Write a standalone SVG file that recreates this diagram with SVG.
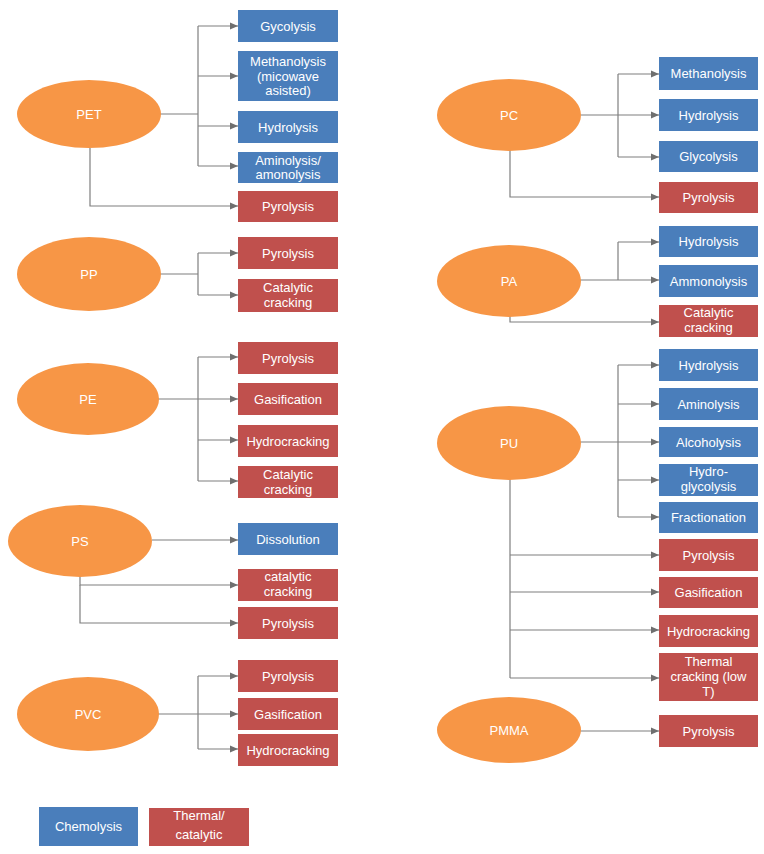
<svg xmlns="http://www.w3.org/2000/svg" width="764" height="854" viewBox="0 0 764 854">
<defs>
<marker id="ah" markerUnits="userSpaceOnUse" markerWidth="8" markerHeight="8" refX="8" refY="4" orient="auto"><path d="M0,0.5 L8,4 L0,7.5 z" fill="#6f6f6f"/></marker>
<style>
.b{fill:#4a7ebb}
.r{fill:#c0504d}
.e{fill:#f79646}
text{font-family:"Liberation Sans",Arial,sans-serif;font-size:13px;fill:#fff;text-anchor:middle}
.c path{fill:none;stroke:#7f7f7f;stroke-width:1.2}
.c .a{marker-end:url(#ah)}
</style>
</defs>
<rect width="764" height="854" fill="#fff"/>

<g id="connectors" class="c">
<!-- PET -->
<path d="M160,114 H198"/>
<path d="M198,26 V166"/>
<path class="a" d="M198,26 H238"/>
<path class="a" d="M198,76 H238"/>
<path class="a" d="M198,126 H238"/>
<path class="a" d="M198,166 H238"/>
<path class="a" d="M90,148 V206 H238"/>
<!-- PP -->
<path d="M160,274 H198"/>
<path d="M198,253 V295"/>
<path class="a" d="M198,253 H238"/>
<path class="a" d="M198,295 H238"/>
<!-- PE -->
<path d="M158,399 H198"/>
<path d="M198,357 V481"/>
<path class="a" d="M198,357 H238"/>
<path class="a" d="M198,399 H238"/>
<path class="a" d="M198,440 H238"/>
<path class="a" d="M198,481 H238"/>
<!-- PS -->
<path class="a" d="M152,540 H238"/>
<path class="a" d="M80,576 V585 H238"/>
<path class="a" d="M80,585 V623 H238"/>
<!-- PVC -->
<path d="M158,714 H198"/>
<path d="M198,676 V749"/>
<path class="a" d="M198,676 H238"/>
<path class="a" d="M198,714 H238"/>
<path class="a" d="M198,749 H238"/>
<!-- PC -->
<path d="M581,115 H618"/>
<path d="M618,74 V157"/>
<path class="a" d="M618,74 H659"/>
<path class="a" d="M618,115 H659"/>
<path class="a" d="M618,157 H659"/>
<path class="a" d="M510,150 V197 H659"/>
<!-- PA -->
<path d="M580,280 H618"/>
<path d="M618,242 V280"/>
<path class="a" d="M618,242 H659"/>
<path class="a" d="M618,280 H659"/>
<path class="a" d="M510,316 V322 H659"/>
<!-- PU -->
<path d="M580,442 H618"/>
<path d="M618,365 V517"/>
<path class="a" d="M618,365 H659"/>
<path class="a" d="M618,404 H659"/>
<path class="a" d="M618,442 H659"/>
<path class="a" d="M618,480 H659"/>
<path class="a" d="M618,517 H659"/>
<path d="M510,479 V678"/>
<path class="a" d="M510,555 H659"/>
<path class="a" d="M510,592 H659"/>
<path class="a" d="M510,630 H659"/>
<path class="a" d="M510,678 H659"/>
<!-- PMMA -->
<path class="a" d="M580,731 H659"/>
</g>

<g id="PET"><ellipse class="e" cx="89" cy="114" rx="72" ry="34"/><text x="89" y="118.5">PET</text></g>
<g id="PP"><ellipse class="e" cx="89" cy="274" rx="72" ry="37"/><text x="89" y="278.5">PP</text></g>
<g id="PE"><ellipse class="e" cx="88" cy="399" rx="71" ry="36"/><text x="88" y="403.5">PE</text></g>
<g id="PS"><ellipse class="e" cx="80" cy="541" rx="72" ry="36"/><text x="80" y="545.5">PS</text></g>
<g id="PVC"><ellipse class="e" cx="88" cy="714" rx="71" ry="37"/><text x="88" y="718.5">PVC</text></g>
<g id="PC"><ellipse class="e" cx="509" cy="115" rx="72" ry="36"/><text x="509" y="119.5">PC</text></g>
<g id="PA"><ellipse class="e" cx="509" cy="281" rx="72" ry="36"/><text x="509" y="285.5">PA</text></g>
<g id="PU"><ellipse class="e" cx="509" cy="443" rx="72" ry="37"/><text x="509" y="447.5">PU</text></g>
<g id="PMMA"><ellipse class="e" cx="509" cy="730" rx="72" ry="33"/><text x="509" y="734.5">PMMA</text></g>

<!-- left column boxes -->
<g id="pet-gycolysis"><rect class="b" x="238" y="10" width="100" height="32"/><text x="288" y="30.5">Gycolysis</text></g>
<g id="pet-methanolysis"><rect class="b" x="238" y="51" width="100" height="50"/><text x="288" y="66">Methanolysis</text><text x="288" y="80.5">(micowave</text><text x="288" y="95">asisted)</text></g>
<g id="pet-hydrolysis"><rect class="b" x="238" y="111" width="100" height="32"/><text x="288" y="131.5">Hydrolysis</text></g>
<g id="pet-aminolysis"><rect class="b" x="238" y="152" width="100" height="31"/><text x="288" y="165">Aminolysis/</text><text x="288" y="179">amonolysis</text></g>
<g id="pet-pyrolysis"><rect class="r" x="238" y="191" width="100" height="31"/><text x="288" y="211">Pyrolysis</text></g>

<g id="pp-pyrolysis"><rect class="r" x="238" y="237" width="100" height="32"/><text x="288" y="257.5">Pyrolysis</text></g>
<g id="pp-catalytic"><rect class="r" x="238" y="279" width="100" height="33"/><text x="288" y="292">Catalytic</text><text x="288" y="307">cracking</text></g>

<g id="pe-pyrolysis"><rect class="r" x="238" y="342" width="100" height="32"/><text x="288" y="362.5">Pyrolysis</text></g>
<g id="pe-gasification"><rect class="r" x="238" y="383" width="100" height="32"/><text x="288" y="403.5">Gasification</text></g>
<g id="pe-hydrocracking"><rect class="r" x="238" y="425" width="100" height="32"/><text x="288" y="445.5">Hydrocracking</text></g>
<g id="pe-catalytic"><rect class="r" x="238" y="466" width="100" height="32"/><text x="288" y="479">Catalytic</text><text x="288" y="494">cracking</text></g>

<g id="ps-dissolution"><rect class="b" x="238" y="523" width="100" height="32"/><text x="288" y="543.5">Dissolution</text></g>
<g id="ps-catalytic"><rect class="r" x="238" y="569" width="100" height="32"/><text x="288" y="581">catalytic</text><text x="288" y="596">cracking</text></g>
<g id="ps-pyrolysis"><rect class="r" x="238" y="607" width="100" height="32"/><text x="288" y="627.5">Pyrolysis</text></g>

<g id="pvc-pyrolysis"><rect class="r" x="238" y="660" width="100" height="32"/><text x="288" y="680.5">Pyrolysis</text></g>
<g id="pvc-gasification"><rect class="r" x="238" y="698" width="100" height="32"/><text x="288" y="718.5">Gasification</text></g>
<g id="pvc-hydrocracking"><rect class="r" x="238" y="734" width="100" height="32"/><text x="288" y="754.5">Hydrocracking</text></g>

<!-- right column boxes -->
<g id="pc-methanolysis"><rect class="b" x="659" y="57" width="99" height="33"/><text x="708.5" y="78">Methanolysis</text></g>
<g id="pc-hydrolysis"><rect class="b" x="659" y="99" width="99" height="32"/><text x="708.5" y="119.5">Hydrolysis</text></g>
<g id="pc-glycolysis"><rect class="b" x="659" y="141" width="99" height="31"/><text x="708.5" y="161">Glycolysis</text></g>
<g id="pc-pyrolysis"><rect class="r" x="659" y="182" width="99" height="31"/><text x="708.5" y="202">Pyrolysis</text></g>

<g id="pa-hydrolysis"><rect class="b" x="659" y="226" width="99" height="31"/><text x="708.5" y="246">Hydrolysis</text></g>
<g id="pa-ammonolysis"><rect class="b" x="659" y="265" width="99" height="32"/><text x="708.5" y="285.5">Ammonolysis</text></g>
<g id="pa-catalytic"><rect class="r" x="659" y="305" width="99" height="32"/><text x="708.5" y="317">Catalytic</text><text x="708.5" y="332">cracking</text></g>

<g id="pu-hydrolysis"><rect class="b" x="659" y="349" width="99" height="32"/><text x="708.5" y="369.5">Hydrolysis</text></g>
<g id="pu-aminolysis"><rect class="b" x="659" y="388" width="99" height="32"/><text x="708.5" y="408.5">Aminolysis</text></g>
<g id="pu-alcoholysis"><rect class="b" x="659" y="427" width="99" height="30"/><text x="708.5" y="446.5">Alcoholysis</text></g>
<g id="pu-hydroglycolysis"><rect class="b" x="659" y="464" width="99" height="32"/><text x="708.5" y="476">Hydro-</text><text x="708.5" y="491">glycolysis</text></g>
<g id="pu-fractionation"><rect class="b" x="659" y="502" width="99" height="31"/><text x="708.5" y="522">Fractionation</text></g>
<g id="pu-pyrolysis"><rect class="r" x="659" y="539" width="99" height="32"/><text x="708.5" y="559.5">Pyrolysis</text></g>
<g id="pu-gasification"><rect class="r" x="659" y="577" width="99" height="31"/><text x="708.5" y="597">Gasification</text></g>
<g id="pu-hydrocracking"><rect class="r" x="659" y="615" width="99" height="32"/><text x="708.5" y="635.5">Hydrocracking</text></g>
<g id="pu-thermal"><rect class="r" x="659" y="653" width="99" height="48"/><text x="708.5" y="666">Thermal</text><text x="708.5" y="681">cracking (low</text><text x="708.5" y="696">T)</text></g>

<g id="pmma-pyrolysis"><rect class="r" x="659" y="715" width="99" height="32"/><text x="708.5" y="735.5">Pyrolysis</text></g>

<!-- legend -->
<g id="legend-chemolysis"><rect class="b" x="39" y="807" width="99" height="39"/><text x="88.5" y="830.5">Chemolysis</text></g>
<g id="legend-thermal"><rect class="r" x="149" y="808" width="100" height="38"/><text x="199" y="820">Thermal/</text><text x="199" y="839">catalytic</text></g>
</svg>
